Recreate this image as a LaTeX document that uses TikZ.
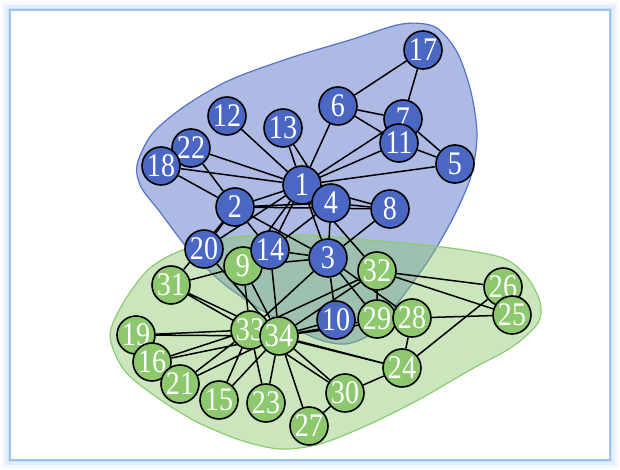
\documentclass[tikz,border=0pt]{standalone}
\usepackage{fontspec}
\usepackage{tikz}
\usepackage{xcolor}
\newfontfamily\labelfont[FakeStretch=0.85]{Liberation Serif}
\definecolor{clubblue}{HTML}{4A67C4}
\definecolor{clubgreen}{HTML}{8DC86E}
\definecolor{hullblue}{HTML}{5572C8}
\definecolor{hullgreen}{HTML}{8CCC70}
\definecolor{glowblue}{HTML}{9EC2F4}
\pgfdeclarelayer{frame}
\pgfdeclarelayer{hulls}
\pgfdeclarelayer{edges}
\pgfsetlayers{frame,hulls,edges,main}
\tikzset{member/.style={circle,draw=black,line width=1.6pt,minimum size=38pt,inner sep=0pt,
   text=white,font=\labelfont\fontsize{33}{33}\selectfont},
 bluenode/.style={member,fill=clubblue},
 greennode/.style={member,fill=clubgreen},
 tie/.style={draw=black,line width=1.5pt},
 }

\begin{document}
\begin{tikzpicture}[x=1pt,y=-1pt]
        \useasboundingbox (0,0) rectangle (620,470);
        % frame with soft glow
        \begin{pgfonlayer}{frame}
        \fill[glowblue,opacity=.12] (2,2) rectangle (618,468);
        \fill[glowblue,opacity=.18] (5,5) rectangle (615,465);
        \fill[glowblue,opacity=.3] (8,8) rectangle (612,462);
        \fill[white] (10,10) rectangle (610,460);
        \draw[glowblue,line width=1.5pt] (10,10) rectangle (610,460);
        \end{pgfonlayer}
        % nodes
        \node[bluenode] (n1) at (302,185) {1};
        \node[bluenode] (n2) at (235,207) {2};
        \node[bluenode] (n3) at (328,258) {3};
        \node[bluenode] (n4) at (331,203) {4};
        \node[bluenode] (n5) at (455,164) {5};
        \node[bluenode] (n6) at (338,106) {6};
        \node[bluenode] (n7) at (403,119) {7};
        \node[bluenode] (n8) at (390,209) {8};
        \node[greennode] (n9) at (243,266) {9};
        \node[bluenode] (n10) at (336,320) {10};
        \node[bluenode] (n11) at (399,143) {11};
        \node[bluenode] (n12) at (227,116) {12};
        \node[bluenode] (n13) at (283,128) {13};
        \node[bluenode] (n14) at (270,250) {14};
        \node[greennode] (n15) at (219,400) {15};
        \node[greennode] (n19) at (136,335) {19};
        \node[greennode] (n16) at (152,362) {16};
        \node[bluenode] (n17) at (423,50) {17};
        \node[bluenode] (n22) at (191,148) {22};
        \node[bluenode] (n18) at (161,166) {18};
        \node[bluenode] (n20) at (204,249) {20};
        \node[greennode] (n21) at (180,384) {21};
        \node[greennode] (n23) at (266,403) {23};
        \node[greennode] (n24) at (402,368) {24};
        \node[greennode] (n26) at (503,287) {26};
        \node[greennode] (n25) at (512,315) {25};
        \node[greennode] (n27) at (309,426) {27};
        \node[greennode] (n29) at (377,319) {29};
        \node[greennode] (n28) at (412,318) {28};
        \node[greennode] (n30) at (345,393) {30};
        \node[greennode] (n31) at (171,285) {31};
        \node[greennode] (n32) at (377,271) {32};
        \node[greennode] (n33) at (250,330) {33};
        \node[greennode] (n34) at (279,336) {34};
        % edges
        \begin{pgfonlayer}{edges}
        \draw[tie] (n1) -- (n2) (n1) -- (n3) (n1) -- (n4) (n1) -- (n5) (n1) -- (n6) (n1) -- (n7)
            (n1) -- (n8) (n1) -- (n9) (n1) -- (n11) (n1) -- (n12) (n1) -- (n13) (n1) -- (n14)
            (n1) -- (n18) (n1) -- (n20) (n1) -- (n22) (n1) -- (n32);
        \draw[tie] (n2) -- (n3) (n2) -- (n4) (n2) -- (n8) (n2) -- (n14) (n2) -- (n18)
            (n2) -- (n20) (n2) -- (n22) (n2) -- (n31);
        \draw[tie] (n3) -- (n4) (n3) -- (n8) (n3) -- (n9) (n3) -- (n10) (n3) -- (n14)
            (n3) -- (n28) (n3) -- (n29) (n3) -- (n33);
        \draw[tie] (n4) -- (n8) (n4) -- (n13) (n4) -- (n14);
        \draw[tie] (n5) -- (n7) (n5) -- (n11) (n6) -- (n7) (n6) -- (n11) (n6) -- (n17) (n7) -- (n17);
        \draw[tie] (n9) -- (n31) (n9) -- (n33) (n9) -- (n34) (n10) -- (n34) (n14) -- (n34);
        \draw[tie] (n15) -- (n33) (n15) -- (n34) (n16) -- (n33) (n16) -- (n34)
            (n19) -- (n33) (n19) -- (n34) (n20) -- (n34) (n21) -- (n33) (n21) -- (n34)
            (n23) -- (n33) (n23) -- (n34);
        \draw[tie] (n24) -- (n26) (n24) -- (n28) (n24) -- (n30) (n24) -- (n33) (n24) -- (n34);
        \draw[tie] (n25) -- (n26) (n25) -- (n28) (n25) -- (n32) (n26) -- (n32);
        \draw[tie] (n27) -- (n30) (n27) -- (n34) (n28) -- (n34) (n29) -- (n32) (n29) -- (n34);
        \draw[tie] (n30) -- (n33) (n30) -- (n34) (n31) -- (n33) (n31) -- (n34)
            (n32) -- (n33) (n32) -- (n34) (n33) -- (n34);
        \end{pgfonlayer}
        % community hulls
        \begin{pgfonlayer}{hulls}
        \draw[hullblue,line width=1.2pt,fill=clubblue,fill opacity=.45]
            plot[smooth cycle] coordinates {(137,165) (152,134) (185,106) (230,80) (290,58) (350,40)
            (402,24) (435,27) (457,52) (471,92) (477,135) (471,176) (454,216) (430,258) (400,300)
            (372,333) (345,344) (315,338) (268,314) (224,284) (189,250) (160,212) (141,187)};
        \draw[hullgreen,line width=1.2pt,fill=clubgreen,fill opacity=.45]
            plot[smooth cycle] coordinates {(110,335) (125,300) (150,268) (185,249) (235,237) (300,235)
            (380,241) (450,248) (503,258) (527,277) (540,302) (538,323) (512,347) (470,370) (420,399)
            (370,424) (320,444) (280,449) (240,440) (195,421) (155,396) (124,370)};
        \end{pgfonlayer}
    \end{tikzpicture}
\end{document}
